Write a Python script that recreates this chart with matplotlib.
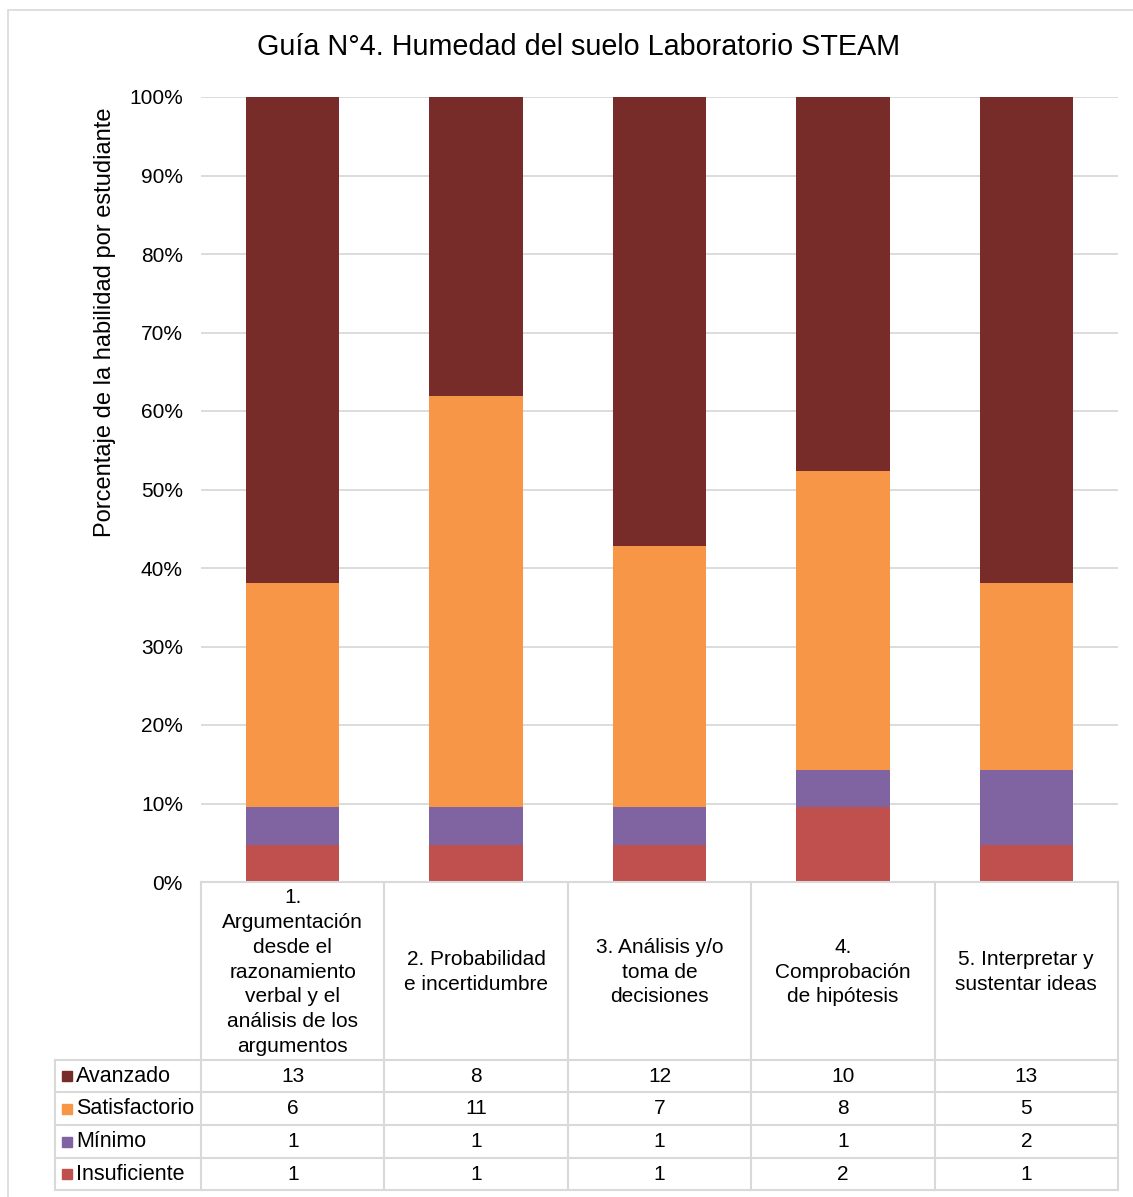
import matplotlib.pyplot as plt
from matplotlib.lines import Line2D
from matplotlib.patches import Rectangle
import matplotlib.transforms as mtransforms

plt.rcParams['font.family'] = ['Liberation Sans', 'DejaVu Sans']

W, H = 1133, 1197

categorias = ['1.\nArgumentación\ndesde el\nrazonamiento\nverbal y el\nanálisis de los\nargumentos',
              '2. Probabilidad\ne incertidumbre',
              '3. Análisis y/o\ntoma de\ndecisiones',
              '4.\nComprobación\nde hipótesis',
              '5. Interpretar y\nsustentar ideas']
niveles = ['Avanzado', 'Satisfactorio', 'Mínimo', 'Insuficiente']
avanzado = [13, 8, 12, 10, 13]
satisfactorio = [6, 11, 7, 8, 5]
minimo = [1, 1, 1, 1, 2]
insuficiente = [1, 1, 1, 2, 1]
colores = ['#772C2A', '#F79646', '#8064A2', '#C0504D']

series = [avanzado, satisfactorio, minimo, insuficiente]
totales = [sum(v) for v in zip(*series)]

fig = plt.figure(figsize=(W / 100, H / 100), dpi=100)

def fx(px):
    return px / W

def fy(py):
    return 1 - py / H

# outer border
fig.add_artist(Rectangle((fx(8), fy(1215)), fx(1145) - fx(8), fy(10) - fy(1215),
                         transform=fig.transFigure, fill=False, edgecolor='#D9D9D9', lw=1.2))

left, right, top, bottom = 201, 1118, 97, 882
ax = fig.add_axes([fx(left), fy(bottom), fx(right) - fx(left), fy(top) - fy(bottom)])

x = list(range(len(categorias)))
base = [0] * len(x)
# stack bottom to top: Insuficiente, Mínimo, Satisfactorio, Avanzado
for vals, col in zip(series[::-1], colores[::-1]):
    pct = [v / t for v, t in zip(vals, totales)]
    ax.bar(x, pct, bottom=base, width=0.51, color=col, zorder=3)
    base = [b + p for b, p in zip(base, pct)]

ax.set_xlim(-0.5, len(x) - 0.5)
ax.set_ylim(0, 1)
ax.set_yticks([i / 10 for i in range(11)])
ax.set_yticklabels([f'{i * 10}%' for i in range(11)], fontsize=15, color='#000000')
ax.grid(axis='y', color='#D9D9D9', lw=1.3, zorder=0)
ax.set_xticks([])
for s in ax.spines.values():
    s.set_visible(False)
ax.tick_params(axis='y', length=0, pad=13)
ax.set_ylabel('Porcentaje de la habilidad por estudiante', fontsize=17)
ax.yaxis.set_label_coords(-0.093, 0.713)

fig.text(fx(579), fy(47), 'Guía N°4. Humedad del suelo Laboratorio STEAM',
         ha='center', va='center', fontsize=20.7)

# data table
gc = '#D9D9D9'
lw = 1.5
col_edges = [201 + i * (1118 - 201) / 5 for i in range(6)]
row_edges = [1060, 1092, 1125, 1158, 1190]

def hline(x0, x1, y):
    fig.add_artist(Line2D([fx(x0), fx(x1)], [fy(y), fy(y)], transform=fig.transFigure, color=gc, lw=lw))

def vline(xp, y0, y1):
    fig.add_artist(Line2D([fx(xp), fx(xp)], [fy(y0), fy(y1)], transform=fig.transFigure, color=gc, lw=lw))

hline(201, 1118, 882)
for y in row_edges:
    hline(55, 1118, y)
for xe in col_edges:
    vline(xe, 882, 1190)
vline(55, 1060, 1190)

blend = mtransforms.blended_transform_factory(ax.transData, fig.transFigure)
for i, cat in enumerate(categorias):
    fig.text(i, fy(972), cat, transform=blend, ha='center', va='center',
             fontsize=15, linespacing=1.38)

for r, (nivel, vals, col) in enumerate(zip(niveles, series, colores)):
    yc = (row_edges[r] + row_edges[r + 1]) / 2
    fig.add_artist(Rectangle((fx(62), fy(yc + 5)), fx(72) - fx(62), fy(yc - 5) - fy(yc + 5),
                             transform=fig.transFigure, color=col))
    fig.text(fx(76), fy(yc), nivel, ha='left', va='center', fontsize=15.5)
    for i, v in enumerate(vals):
        fig.text(i, fy(yc), str(v), transform=blend, ha='center', va='center', fontsize=15)

fig.savefig('out.png', dpi=100)
